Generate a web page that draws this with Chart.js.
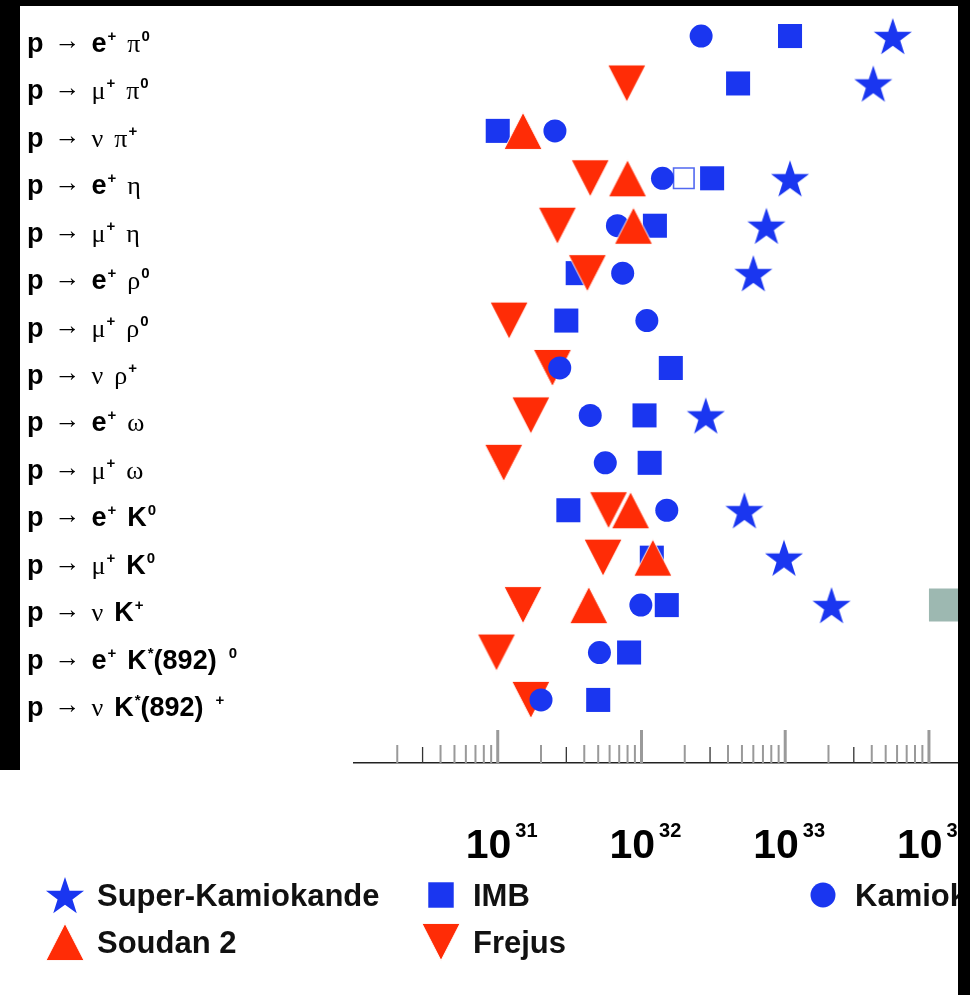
<!DOCTYPE html>
<html>
<head>
<meta charset="utf-8">
<title>Proton decay lifetime limits</title>
<script src="https://cdn.jsdelivr.net/npm/chart.js@4.4.1/dist/chart.umd.min.js"></script>
<style>
  html, body { margin: 0; padding: 0; background: #fff; }
  #wrap { position: relative; width: 970px; height: 995px; overflow: hidden; background: #fff; }
  #chart { position: absolute; left: 0; top: 0; }
  .edge { position: absolute; background: #000; }
</style>
</head>
<body>
<div id="wrap">
  <canvas id="chart" width="970" height="995"></canvas>
  <div class="edge" style="left:0;top:0;width:970px;height:6px"></div>
  <div class="edge" style="left:0;top:0;width:20px;height:770px"></div>
  <div class="edge" style="left:958px;top:0;width:12px;height:995px"></div>
</div>
<script>
(function () {
  "use strict";

  // Decay channels, top to bottom. ^{..} marks a superscript.
  var decays = [
    'p → e^{+} π^{0}',
    'p → μ^{+} π^{0}',
    'p → ν π^{+}',
    'p → e^{+} η',
    'p → μ^{+} η',
    'p → e^{+} ρ^{0}',
    'p → μ^{+} ρ^{0}',
    'p → ν ρ^{+}',
    'p → e^{+} ω',
    'p → μ^{+} ω',
    'p → e^{+} K^{0}',
    'p → μ^{+} K^{0}',
    'p → ν K^{+}',
    'p → e^{+} K^{*}(892) ^{0}',
    'p → ν K^{*}(892) ^{+}'
  ];

  // Lifetime limits (years), one entry per channel, null = no limit shown.
  var superK     = [5.6e33, 4.1e33, null, 1.08e33, 7.4e32, 6.0e32, null, null, 2.8e32, null, 5.2e32, 9.8e32, 2.1e33, null, null];
  var imb        = [1.08e33, 4.7e32, 1.0e31, 3.1e32, 1.24e32, 3.6e31, 3.0e31, 1.6e32, 1.05e32, 1.14e32, 3.1e31, 1.18e32, 1.5e32, 8.2e31, 5.0e31];
  var imbOther   = [null, null, null, 1.97e32, null, null, null, null, null, null, null, null, null, null, null];
  var kamiokande = [2.6e32, null, 2.5e31, 1.4e32, 6.8e31, 7.4e31, 1.09e32, 2.7e31, 4.4e31, 5.6e31, 1.5e32, null, 9.9e31, 5.1e31, 2.0e31];
  var soudan2    = [null, null, 1.5e31, 8.0e31, 8.8e31, null, null, null, null, null, 8.4e31, 1.2e32, 4.3e31, null, null];
  var frejus     = [null, 7.9e31, null, 4.4e31, 2.6e31, 4.2e31, 1.2e31, 2.4e31, 1.7e31, 1.1e31, 5.9e31, 5.4e31, 1.5e31, 9.8e30, 1.7e31];

  // Grey band on the p -> nu K+ row (runs past the right edge).
  var bandRow = 12;
  var bandRange = [1.0e34, 1.0e35];

  // Axis: decades labelled, minor ticks at 2..9 x 10^n.
  var xMin = 1e30;
  var xMax = 1.93e34;
  var decadeExponents = [31, 32, 33, 34];
  var minorExponents = [30, 31, 32, 33];
  var minorMultipliers = [2, 3, 4, 5, 6, 7, 8, 9];

  var BLUE = '#1a36f0';
  var RED = '#ff2c06';
  var GREY_BAND = '#9db8b1';
  var SANS = '"Liberation Sans", Arial, Helvetica, sans-serif';
  var SERIF = '"Liberation Serif", "DejaVu Serif", serif';

  function makeMarker(w, h, draw) {
    var c = document.createElement('canvas');
    c.width = w;
    c.height = h;
    draw(c.getContext('2d'), w, h);
    return c;
  }

  var starImg = makeMarker(44, 44, function (g, w, h) {
    var cx = w / 2, cy = h / 2 + 2, R = 20, r = 7.8;
    g.beginPath();
    for (var i = 0; i < 10; i++) {
      var a = -Math.PI / 2 + i * Math.PI / 5;
      var rad = i % 2 ? r : R;
      g.lineTo(cx + rad * Math.cos(a), cy + rad * Math.sin(a));
    }
    g.closePath();
    g.fillStyle = BLUE;
    g.fill();
  });

  function triangle(up) {
    return makeMarker(44, 44, function (g, w, h) {
      var cx = w / 2, cy = h / 2, hw = 19, hh = 18.5;
      g.beginPath();
      if (up) {
        g.moveTo(cx, cy - hh);
        g.lineTo(cx + hw, cy + hh);
        g.lineTo(cx - hw, cy + hh);
      } else {
        g.moveTo(cx, cy + hh);
        g.lineTo(cx + hw, cy - hh);
        g.lineTo(cx - hw, cy - hh);
      }
      g.closePath();
      g.fillStyle = RED;
      g.fill();
      g.lineWidth = 1;
      g.strokeStyle = 'rgba(255,255,255,0.9)';
      g.stroke();
    });
  }
  var upImg = triangle(true);
  var downImg = triangle(false);

  function toPoints(values) {
    var pts = [];
    values.forEach(function (v, i) {
      if (v !== null) pts.push({ x: v, y: i });
    });
    return pts;
  }

  function markerSet(label, values, style, radius, color, extra) {
    var ds = {
      label: label,
      data: toPoints(values),
      pointStyle: style,
      pointRadius: radius,
      pointBackgroundColor: color,
      pointBorderColor: color,
      pointBorderWidth: 0,
      showLine: false,
      clip: false
    };
    Object.keys(extra || {}).forEach(function (k) { ds[k] = extra[k]; });
    return ds;
  }

  // Chart.js paints the first dataset last, so the list runs top layer first.
  var datasets = [
    markerSet('Super-Kamiokande', superK, starImg, 18, BLUE),
    markerSet('Soudan 2', soudan2, upImg, 18, RED),
    markerSet('Kamiokande', kamiokande, 'circle', 11.5, BLUE),
    markerSet('Frejus', frejus, downImg, 18, RED),
    markerSet('IMB (other)', imbOther, 'rect', 14.5, '#ffffff', { pointBorderColor: '#5268f0', pointBorderWidth: 1.6 }),
    markerSet('IMB', imb, 'rect', 17, BLUE),
    {
      label: 'band',
      data: [{ x: bandRange[0], y: bandRow }, { x: bandRange[1], y: bandRow }],
      showLine: true,
      borderColor: GREY_BAND,
      borderWidth: 33,
      borderCapStyle: 'butt',
      pointRadius: 0
    }
  ];

  var legendSlots = [
    { label: 'Super-Kamiokande', x: 65, y: 895 },
    { label: 'IMB', x: 441, y: 895 },
    { label: 'Kamiokande', x: 823, y: 895 },
    { label: 'Soudan 2', x: 65, y: 942 },
    { label: 'Frejus', x: 441, y: 942 }
  ];

  var GREEK = 'πμνηρω';
  function tokenize(label) {
    var out = [], i = 0;
    while (i < label.length) {
      var ch = label[i];
      if (ch === '^' && label[i + 1] === '{') {
        var end = label.indexOf('}', i);
        out.push({ kind: 'sup', text: label.slice(i + 2, end) });
        i = end + 1;
      } else if (ch === ' ') {
        out.push({ kind: 'gap' });
        i++;
      } else {
        var kind = ch === '→' ? 'arrow' : (GREEK.indexOf(ch) >= 0 ? 'greek' : 'latin');
        var last = out[out.length - 1];
        if (last && last.kind === kind) last.text += ch;
        else out.push({ kind: kind, text: ch });
        i++;
      }
    }
    return out;
  }

  var fonts = {
    latin: 'bold 27px ' + SANS,
    greek: '26px ' + SERIF,
    arrow: '26px ' + SERIF,
    sup: 'bold 15px ' + SANS
  };
  var lift = { latin: 0, greek: 0, arrow: -3, sup: -11 };

  var decorPlugin = {
    id: 'decor',
    afterDraw: function (chart) {
      var ctx = chart.ctx;
      var xs = chart.scales.x;
      var ys = chart.scales.y;
      var axisY = chart.chartArea.bottom;
      ctx.save();

      // upward tick marks
      minorExponents.forEach(function (e) {
        minorMultipliers.forEach(function (m) {
          var px = xs.getPixelForValue(m * Math.pow(10, e));
          ctx.beginPath();
          ctx.lineWidth = m === 3 ? 1.3 : 2;
          ctx.strokeStyle = m === 3 ? '#333' : '#999';
          ctx.moveTo(px, axisY);
          ctx.lineTo(px, axisY - (m === 3 ? 16 : 18));
          ctx.stroke();
        });
      });
      decadeExponents.forEach(function (e) {
        var px = xs.getPixelForValue(Math.pow(10, e));
        ctx.beginPath();
        ctx.lineWidth = 3;
        ctx.strokeStyle = '#9a9a9a';
        ctx.moveTo(px, axisY);
        ctx.lineTo(px, axisY - 33);
        ctx.stroke();

        ctx.fillStyle = '#000';
        ctx.textBaseline = 'alphabetic';
        ctx.textAlign = 'left';
        ctx.font = 'bold 41px ' + SANS;
        var w10 = ctx.measureText('10').width;
        var start = px - 32;
        ctx.fillText('10', start, 858);
        ctx.font = 'bold 20px ' + SANS;
        ctx.fillText(String(e), start + w10 + 4, 837);
      });

      // channel labels
      ctx.fillStyle = '#000';
      decays.forEach(function (label, i) {
        var y = ys.getPixelForValue(i) + 16;
        var x = 27;
        tokenize(label).forEach(function (t) {
          if (t.kind === 'gap') { x += 11; return; }
          ctx.font = fonts[t.kind];
          if (t.kind === 'sup') x += 1;
          ctx.fillText(t.text, x, y + lift[t.kind]);
          x += ctx.measureText(t.text).width;
        });
      });

      // legend
      legendSlots.forEach(function (slot) {
        var ds = chart.data.datasets.filter(function (d) { return d.label === slot.label; })[0];
        if (!ds) return;
        ctx.fillStyle = ds.pointBackgroundColor;
        var r = ds.pointStyle === 'rect' ? 18 : (ds.pointStyle === 'circle' ? 12.5 : ds.pointRadius);
        Chart.helpers.drawPoint(ctx, { pointStyle: ds.pointStyle, radius: r, borderWidth: 0, rotation: 0 }, slot.x, slot.y);
        ctx.fillStyle = '#111';
        ctx.font = 'bold 31px ' + SANS;
        ctx.fillText(slot.label, slot.x + 32, slot.y + 11);
      });
      ctx.restore();
    }
  };

  new Chart(document.getElementById('chart').getContext('2d'), {
    type: 'scatter',
    data: { datasets: datasets },
    options: {
      responsive: false,
      devicePixelRatio: 1,
      animation: false,
      events: [],
      layout: { autoPadding: false, padding: { left: 354, right: 0, top: 0, bottom: 232 } },
      plugins: { legend: { display: false }, tooltip: { enabled: false } },
      scales: {
        x: {
          type: 'logarithmic',
          min: xMin,
          max: xMax,
          grid: { display: true, drawOnChartArea: false, drawTicks: false, color: 'rgba(0,0,0,0)' },
          border: { display: true, color: '#222', width: 1.5 },
          ticks: { display: false }
        },
        y: {
          type: 'linear',
          reverse: true,
          min: -0.76,
          max: 15.33,
          display: false
        }
      }
    },
    plugins: [decorPlugin]
  });
})();
</script>
</body>
</html>
